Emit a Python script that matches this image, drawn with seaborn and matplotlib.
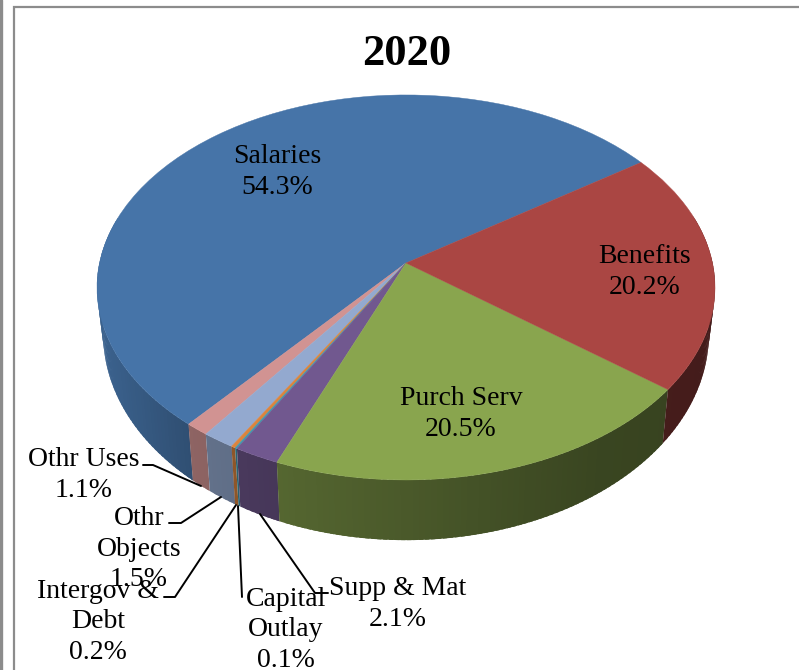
import numpy as np
import matplotlib
matplotlib.use("Agg")
import matplotlib.pyplot as plt
from matplotlib.transforms import Transform
import seaborn as sns

names = ['Salaries', 'Othr Uses', 'Othr\nObjects', 'Intergov &\nDebt', 'Capital\nOutlay',
         'Supp & Mat', 'Purch Serv', 'Benefits']
values = [54.3, 1.1, 1.5, 0.2, 0.1, 2.1, 20.5, 20.2]
colors = ['#4674A8', '#D19392', '#93A9CF', '#DB843D', '#4198AF', '#71588F', '#89A54E', '#AA4643']
label_pos = [(277, 172), (84, 475), (139, 549), (98, 622), (286, 630), (398, 604), (461, 414), (645, 272)]

# leader lines, pixel positions
leaders = [[(143, 465), (153, 465), (201, 486)],
           [(169, 523), (181, 523), (221, 497)],
           [(164, 597), (175, 597), (236, 505)],
           [(242, 597), (238, 506)],
           [(328, 593), (315, 593), (260, 514)]]

CX, CY, A, B, K = 406, 263, 189.4, 306.5, 0.127
START = 34.7


def project(u, v):
    f = 1 + K * v
    return CX + B * u / f, CY - A * v / f


class PieProjection(Transform):
    input_dims = 2
    output_dims = 2
    has_inverse = False

    def transform_non_affine(self, values):
        x, y = project(values[:, 0], values[:, 1])
        return np.column_stack([x, y])


def drop(x, y):
    return CX + (x - CX) * 0.98, y + 45 + 0.07 * (y - CY)


sns.set_theme(style='white')
plt.rcParams['font.family'] = ['Liberation Serif', 'DejaVu Serif']

fig = plt.figure(figsize=(7.99, 6.70), dpi=100)
ax = fig.add_axes([0, 0, 1, 1])

palette = sns.color_palette(colors)
edges = START + np.concatenate([[0], np.cumsum(values)]) * 3.6 / sum(values) * 100

# side wall, strips with shading across the x position
for i, col in enumerate(palette):
    lo, hi = edges[i], edges[i + 1]
    angles = np.arange(lo, hi, 1.0)
    angles = np.append(angles, hi)
    for a0, a1 in zip(angles[:-1], angles[1:]):
        mid = np.radians((a0 + a1) / 2) % (2 * np.pi)
        if np.sin(mid) > 0.25:
            continue
        t = np.radians(np.linspace(a0, min(a1 + 0.7, hi), 3))
        x, y = project(np.cos(t), np.sin(t))
        xb, yb = drop(x, y)
        shade = np.interp(x.mean(), [97, 190, 280, 600, 715], [0.85, 0.68, 0.62, 0.42, 0.40])
        c = tuple(np.array(col) * shade)
        ax.fill(np.r_[x, xb[::-1]], np.r_[y, yb[::-1]], color=c, lw=0, zorder=1)

wedges, _ = ax.pie(values, colors=palette, startangle=START, counterclock=True, radius=1,
                   wedgeprops=dict(linewidth=0.3))
proj = PieProjection()
for w, col in zip(wedges, palette):
    w.set_transform(proj + ax.transData)
    w.set_edgecolor(col)
    w.set_zorder(2)

ax.set_aspect('auto')
ax.set_xlim(0, 799)
ax.set_ylim(670, 0)
ax.axis('off')

# frame of the chart area
ax.plot([14, 14, 799], [670, 7, 7], color='#8c8c8c', lw=1.6, zorder=0, solid_joinstyle='miter')
ax.plot([0.5, 0.5], [0, 670], color='#8c8c8c', lw=2.4, zorder=0)

ax.text(407, 54, '2020', fontsize=32, fontweight='bold', ha='center', va='center', color='black')

for name, val, (x, y) in zip(names, values, label_pos):
    ax.text(x, y, '{}\n{:.1f}%'.format(name, val), fontsize=20, ha='center', va='center',
            linespacing=1.3, color='black', zorder=4)

for pts in leaders:
    xs, ys = zip(*pts)
    ax.plot(xs, ys, color='black', lw=1.4, zorder=3)

fig.savefig('out.png', dpi=100)
